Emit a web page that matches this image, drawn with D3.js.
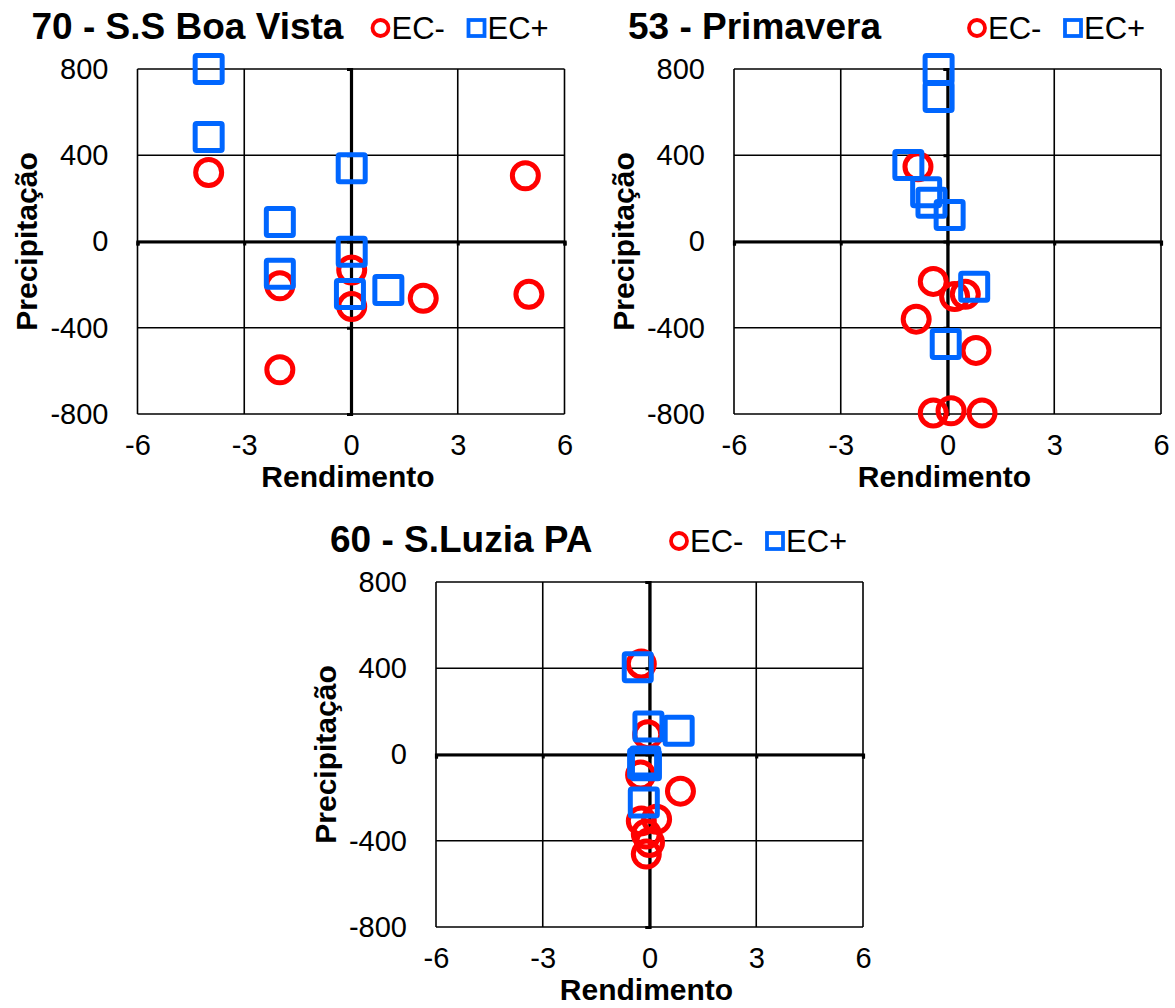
<!DOCTYPE html>
<html>
<head>
<meta charset="utf-8">
<script src="https://cdn.jsdelivr.net/npm/d3@7"></script>
<style>
  body { margin: 0; background: #fff; }
  svg { display: block; font-family: "Liberation Sans", Arial, sans-serif; }
</style>
</head>
<body>
<svg id="chart" width="1175" height="1008"></svg>
<script>
// axis ticks shared by all three panels
const xTicks = [-6, -3, 0, 3, 6];
const yTicks = [-800, -400, 0, 400, 800];

const panelTitles = ["70 - S.S Boa Vista", "53 - Primavera", "60 - S.Luzia PA"];
const seriesNames = ["EC-", "EC+"];

// [Rendimento, Precipitação] pairs
const boaVistaNeg = [[-4, 320], [4.9, 305], [-2, -205], [0.02, -132], [0.02, -302], [2.03, -263], [5, -245], [-2, -595]];
const boaVistaPos = [[-4, 800], [-4, 485], [0.02, 340], [-2, 90], [0.02, -47], [-2, -150], [-0.03, -243], [1.05, -225]];

const primaveraNeg = [[-0.83, 347], [-0.4, -185], [0.2, -255], [0.5, -245], [-0.88, -360], [0.8, -505], [-0.4, -795], [0.1, -785], [0.97, -795]];
const primaveraPos = [[-0.25, 800], [-0.25, 670], [-1.1, 355], [-0.6, 228], [-0.45, 180], [0.06, 123], [0.75, -210], [-0.05, -475]];

const luziaNeg = [[-0.23, 420], [-0.05, 92], [-0.25, -95], [0.87, -170], [0.2, -300], [-0.23, -308], [-0.09, -369], [0, -408], [-0.09, -462]];
const luziaPos = [[-0.33, 405], [-0.03, 130], [0.82, 110], [-0.12, -33], [-0.18, -42], [-0.1, -50], [-0.16, -223]];

const red = "#ff0000";
const blue = "#0066ff";

// plot frames (pixels)
const panels = [
  {left: 137.5, top: 69, neg: boaVistaNeg, pos: boaVistaPos, title: panelTitles[0]},
  {left: 734, top: 69, neg: primaveraNeg, pos: primaveraPos, title: panelTitles[1]},
  {left: 436, top: 582, neg: luziaNeg, pos: luziaPos, title: panelTitles[2]}
];
const width = 427, height = 345;

const svg = d3.select("#chart");

panels.forEach(p => {
  let g = svg.append("g").attr("transform", `translate(${p.left}, ${p.top})`);

  let x = d3.scaleLinear().domain([-6, 6]).range([0, width]);
  let y = d3.scaleLinear().domain([-800, 800]).range([height, 0]);

  // grid lines (including the frame)
  g.append("g").selectAll("line.vgrid")
    .data(xTicks)
    .join("line")
      .attr("x1", d => x(d)).attr("x2", d => x(d))
      .attr("y1", 0).attr("y2", height)
      .attr("stroke", "#000").attr("stroke-width", 1.6);
  g.append("g").selectAll("line.hgrid")
    .data(yTicks)
    .join("line")
      .attr("x1", 0).attr("x2", width)
      .attr("y1", d => y(d)).attr("y2", d => y(d))
      .attr("stroke", "#000").attr("stroke-width", 1.6);

  // zero axes, thick, with small ticks
  let xZero = g.append("g")
    .attr("transform", `translate(0, ${y(0)})`)
    .call(d3.axisBottom(x).tickValues(xTicks).tickSize(4).tickSizeOuter(4).tickFormat(""));
  let yZero = g.append("g")
    .attr("transform", `translate(${x(0)}, 0)`)
    .call(d3.axisLeft(y).tickValues(yTicks).tickSize(4).tickSizeOuter(4).tickFormat(""));
  [xZero, yZero].forEach(a => {
    a.select(".domain").attr("stroke", "#000").attr("stroke-width", 3.2);
    a.selectAll(".tick line").attr("stroke", "#000").attr("stroke-width", 3);
  });

  // tick labels at the frame edges
  let xLab = g.append("g")
    .attr("transform", `translate(0, ${height})`)
    .call(d3.axisBottom(x).tickValues(xTicks).tickSize(0).tickPadding(20).tickFormat(d3.format("d")));
  let yLab = g.append("g")
    .call(d3.axisLeft(y).tickValues(yTicks).tickSize(0).tickPadding(29).tickFormat(d3.format("d")));
  [xLab, yLab].forEach(a => {
    a.select(".domain").remove();
    a.selectAll("text")
      .attr("fill", "#000")
      .style("font-size", "29px")
      .style("font-family", "Liberation Sans, Arial, sans-serif");
  });
  // plain hyphen minus like the original
  g.selectAll(".tick text").text(function() { return this.textContent.replace("−", "-"); });

  // axis titles
  g.append("text")
    .attr("x", width / 2 - 3)
    .attr("y", height + 73)
    .attr("text-anchor", "middle")
    .style("font-size", "30px")
    .style("font-weight", "bold")
    .text("Rendimento");
  g.append("text")
    .attr("transform", `translate(-111, ${height / 2}) rotate(-90)`)
    .attr("text-anchor", "middle")
    .attr("dy", "0.35em")
    .style("font-size", "30px")
    .style("font-weight", "bold")
    .text("Precipitação");

  // title
  g.append("text")
    .attr("x", -106)
    .attr("y", -30)
    .style("font-size", "37px")
    .style("font-weight", "bold")
    .text(p.title);

  // legend
  let leg = g.append("g").attr("transform", "translate(243, -41)");
  leg.append("circle")
    .attr("r", 8)
    .attr("fill", "none").attr("stroke", red).attr("stroke-width", 3.8);
  leg.append("text")
    .attr("x", 11).attr("y", 11)
    .style("font-size", "31px")
    .text(seriesNames[0]);
  leg.append("rect")
    .attr("x", 88).attr("y", -8).attr("width", 16).attr("height", 16)
    .attr("fill", "none").attr("stroke", blue).attr("stroke-width", 3.8);
  leg.append("text")
    .attr("x", 107).attr("y", 11)
    .style("font-size", "31px")
    .text(seriesNames[1]);

  // EC- circles
  g.append("g").selectAll("circle")
    .data(p.neg)
    .join("circle")
      .attr("cx", d => x(d[0]))
      .attr("cy", d => y(d[1]))
      .attr("r", 13)
      .attr("fill", "none")
      .attr("stroke", red)
      .attr("stroke-width", 5);

  // EC+ squares
  const s = 27;
  g.append("g").selectAll("rect")
    .data(p.pos)
    .join("rect")
      .attr("x", d => x(d[0]) - s / 2)
      .attr("y", d => y(d[1]) - s / 2)
      .attr("width", s)
      .attr("height", s)
      .attr("rx", 1.5)
      .attr("fill", "none")
      .attr("stroke", blue)
      .attr("stroke-width", 5);
});
</script>
</body>
</html>
